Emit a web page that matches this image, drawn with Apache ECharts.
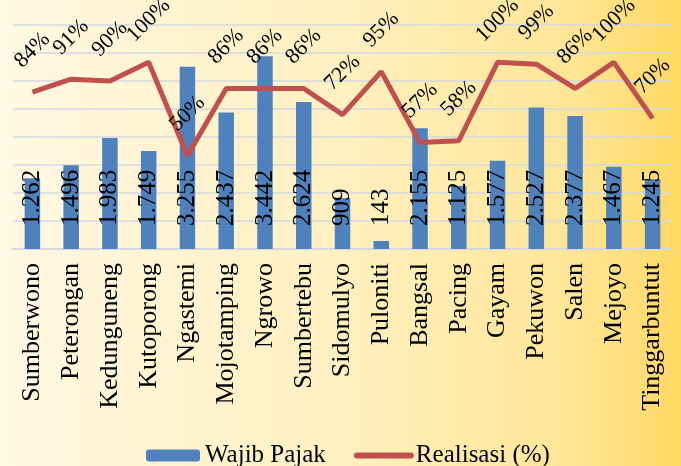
<!DOCTYPE html>
<html>
<head>
<meta charset="utf-8">
<style>
  html, body { margin: 0; padding: 0; }
  #main { width: 681px; height: 466px; }
</style>
<script src="https://cdn.jsdelivr.net/npm/echarts@6/dist/echarts.min.js"></script>
</head>
<body>
<div id="main"></div>
<script>
    var categories = ['Sumberwono', 'Peterongan', 'Kedunguneng', 'Kutoporong', 'Ngastemi', 'Mojotamping', 'Ngrowo', 'Sumbertebu',
        'Sidomulyo', 'Puloniti', 'Bangsal', 'Pacing', 'Gayam', 'Pekuwon', 'Salen', 'Mejoyo', 'Tinggarbuntut'];
    var wajibPajak = [1262, 1496, 1983, 1749, 3255, 2437, 3442, 2624, 909, 143, 2155, 1125, 1577, 2527, 2377, 1467, 1245];
    var realisasi = [84, 91, 90, 100, 50, 86, 86, 86, 72, 95, 57, 58, 100, 99, 86, 100, 70];

    var serif = 'Liberation Serif';

    // titik sebagai pemisah ribuan
    function ribuan(v) {
        return String(v).replace(/\B(?=(\d{3})+(?!\d))/g, '.');
    }

    var myChart = echarts.init(document.getElementById('main'));
    var option = {
        backgroundColor: {
            type: 'linear', x: 0, y: 0, x2: 1, y2: 0,
            colorStops: [
                {offset: 0, color: '#fff8e3'},
                {offset: 0.5, color: '#fff0c0'},
                {offset: 0.85, color: '#ffe594'},
                {offset: 1, color: '#ffd863'}
            ]
        },
        textStyle: {fontFamily: serif},
        grid: {left: 13, right: 9, top: 25, bottom: 217, containLabel: false},
        legend: {
            left: 141,
            top: 438,
            itemWidth: 54,
            itemHeight: 12,
            itemGap: 28,
            textStyle: {fontFamily: serif, fontSize: 25, color: '#000'},
            lineStyle: {width: 6, cap: 'round'},
            data: [
                'Wajib Pajak',
                {name: 'Realisasi (%)', itemStyle: {opacity: 0}}
            ]
        },
        xAxis: [{
            type: 'category',
            data: categories,
            axisLine: {show: true, lineStyle: {color: '#d5d8e0', width: 2}},
            axisTick: {show: false},
            axisLabel: {
                rotate: 90,
                interval: 0,
                margin: 14,
                fontFamily: serif,
                fontSize: 26,
                color: '#000'
            }
        }],
        yAxis: [{
            type: 'value',
            min: 0,
            max: 4000,
            interval: 500,
            axisLabel: {show: false},
            axisLine: {show: false},
            axisTick: {show: false},
            splitLine: {lineStyle: {color: '#d5d8e0', width: 1.5}}
        }, {
            type: 'value',
            min: 0,
            max: 120,
            axisLabel: {show: false},
            axisLine: {show: false},
            axisTick: {show: false},
            splitLine: {show: false}
        }],
        series: [{
            name: 'Wajib Pajak',
            type: 'bar',
            barWidth: '40%',
            itemStyle: {color: '#4f81bd'},
            label: {
                show: true,
                position: 'insideBottom',
                distance: 23,
                rotate: 90,
                align: 'left',
                verticalAlign: 'middle',
                fontFamily: serif,
                fontSize: 25,
                color: '#000',
                formatter: function (p) {
                    return ribuan(p.value);
                }
            },
            data: wajibPajak
        }, {
            name: 'Realisasi (%)',
            type: 'line',
            yAxisIndex: 1,
            symbol: 'circle',
            symbolSize: 0,
            showSymbol: true,
            lineStyle: {color: '#c0504d', width: 5},
            itemStyle: {color: '#c0504d'},
            label: {
                show: true,
                position: 'top',
                distance: 42,
                rotate: 45,
                align: 'center',
                verticalAlign: 'middle',
                fontFamily: serif,
                fontSize: 22,
                color: '#000',
                formatter: '{c}%'
            },
            data: realisasi
        }]
    };
    myChart.setOption(option);
</script>
</body>
</html>
